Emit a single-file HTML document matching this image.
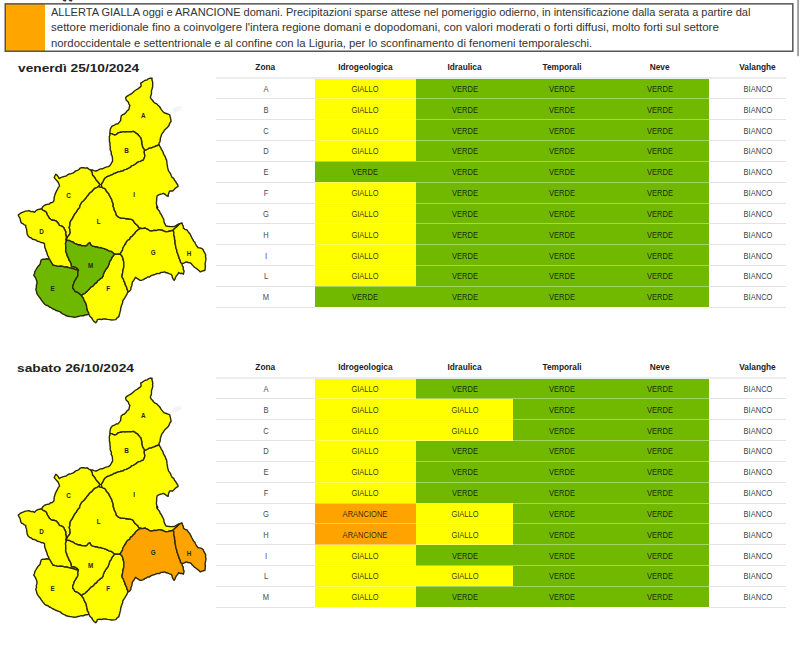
<!DOCTYPE html>
<html><head><meta charset="utf-8"><style>
html,body{margin:0;padding:0;background:#fff;width:800px;height:647px;overflow:hidden;position:relative;font-family:"Liberation Sans",sans-serif}
.abs{position:absolute}
#box{position:absolute;left:4px;top:2.5px;width:787px;height:47.5px;border:2px solid #505050;border-left-width:2px}
#orange{position:absolute;left:6px;top:4.5px;width:38.5px;height:47px;background:#ffa500}
.ln{position:absolute;left:51px;white-space:nowrap;font-size:10.2px;color:#333;transform-origin:0 0;line-height:12px}
.day{position:absolute;left:17.5px;white-space:nowrap;font-size:11.6px;font-weight:bold;color:#222;transform-origin:0 0;line-height:14px}
.th{position:absolute;width:100px;text-align:center;font-size:8.3px;font-weight:bold;color:#222;line-height:10px;white-space:nowrap}
.td{position:absolute;width:100px;text-align:center;font-size:8.2px;transform:scaleX(0.92);color:rgba(0,0,0,0.8);line-height:10px;white-space:nowrap}
.td.z{color:#4a4a4a}
.cell{position:absolute}
.hb{position:absolute;left:215.5px;width:570.5px;height:2px;background:#ececec}
.sep{position:absolute;height:1px;background:#e3e3e3}
.sepc{position:absolute;left:315px;width:393.5px;height:1px;background:rgba(255,255,255,0.38)}
#rl{position:absolute;left:797.5px;top:0;width:1.5px;height:56px;background:#888}
svg{position:absolute;left:0;top:0}
.lbl text{font-size:6.3px;font-weight:bold;fill:#262610;text-anchor:middle;font-family:"Liberation Sans",sans-serif}
</style></head><body>
<svg width="800" height="60" style="position:absolute;left:0;top:0"><rect x="5.25" y="3.85" width="39.75" height="47.4" fill="#ffa500"/><rect x="5.25" y="3.85" width="787.55" height="47.4" fill="none" stroke="#555" stroke-width="1.5"/><rect x="797.3" y="0" width="1.5" height="56.2" fill="#8a8a8a"/><path d="M62.5 0 Q64 2.2 66 1.2 L66.5 0 Z M68.5 0 Q70 2.2 72 1.2 L72.5 0 Z" fill="#333"/></svg>
<div class="ln" style="top:6.5px;transform:scaleX(1.0821)">ALLERTA GIALLA oggi e ARANCIONE domani. Precipitazioni sparse attese nel pomeriggio odierno, in intensificazione dalla serata a partire dal</div>
<div class="ln" style="top:22.35px;transform:scaleX(1.1284)">settore meridionale fino a coinvolgere l'intera regione domani e dopodomani, con valori moderati o forti diffusi, molto forti sul settore</div>
<div class="ln" style="top:38.2px;transform:scaleX(1.1100)">nordoccidentale e settentrionale e al confine con la Liguria, per lo sconfinamento di fenomeni temporaleschi.</div>
<div class="day" style="top:61px;transform:scaleX(1.183)">venerdì 25/10/2024</div>
<div class="day" style="top:360.5px;left:17px;transform:scaleX(1.186)">sabato 26/10/2024</div>
<div class="th" style="left:215.25px;top:62.10px">Zona</div><div class="th" style="left:315.38px;top:62.10px">Idrogeologica</div><div class="th" style="left:414.50px;top:62.10px">Idraulica</div><div class="th" style="left:512.00px;top:62.10px">Temporali</div><div class="th" style="left:609.62px;top:62.10px">Neve</div><div class="th" style="left:707.50px;top:62.10px">Valanghe</div><div class="cell" style="left:315.00px;top:78.00px;width:100.75px;height:20.84px;background:#ffff00"></div><div class="cell" style="left:415.75px;top:78.00px;width:97.50px;height:20.84px;background:#70b900"></div><div class="cell" style="left:513.25px;top:78.00px;width:97.50px;height:20.84px;background:#70b900"></div><div class="cell" style="left:610.75px;top:78.00px;width:97.75px;height:20.84px;background:#70b900"></div><div class="cell" style="left:315.00px;top:98.84px;width:100.75px;height:20.84px;background:#ffff00"></div><div class="cell" style="left:415.75px;top:98.84px;width:97.50px;height:20.84px;background:#70b900"></div><div class="cell" style="left:513.25px;top:98.84px;width:97.50px;height:20.84px;background:#70b900"></div><div class="cell" style="left:610.75px;top:98.84px;width:97.75px;height:20.84px;background:#70b900"></div><div class="cell" style="left:315.00px;top:119.68px;width:100.75px;height:20.84px;background:#ffff00"></div><div class="cell" style="left:415.75px;top:119.68px;width:97.50px;height:20.84px;background:#70b900"></div><div class="cell" style="left:513.25px;top:119.68px;width:97.50px;height:20.84px;background:#70b900"></div><div class="cell" style="left:610.75px;top:119.68px;width:97.75px;height:20.84px;background:#70b900"></div><div class="cell" style="left:315.00px;top:140.52px;width:100.75px;height:20.84px;background:#ffff00"></div><div class="cell" style="left:415.75px;top:140.52px;width:97.50px;height:20.84px;background:#70b900"></div><div class="cell" style="left:513.25px;top:140.52px;width:97.50px;height:20.84px;background:#70b900"></div><div class="cell" style="left:610.75px;top:140.52px;width:97.75px;height:20.84px;background:#70b900"></div><div class="cell" style="left:315.00px;top:161.36px;width:100.75px;height:20.84px;background:#70b900"></div><div class="cell" style="left:415.75px;top:161.36px;width:97.50px;height:20.84px;background:#70b900"></div><div class="cell" style="left:513.25px;top:161.36px;width:97.50px;height:20.84px;background:#70b900"></div><div class="cell" style="left:610.75px;top:161.36px;width:97.75px;height:20.84px;background:#70b900"></div><div class="cell" style="left:315.00px;top:182.20px;width:100.75px;height:20.84px;background:#ffff00"></div><div class="cell" style="left:415.75px;top:182.20px;width:97.50px;height:20.84px;background:#70b900"></div><div class="cell" style="left:513.25px;top:182.20px;width:97.50px;height:20.84px;background:#70b900"></div><div class="cell" style="left:610.75px;top:182.20px;width:97.75px;height:20.84px;background:#70b900"></div><div class="cell" style="left:315.00px;top:203.04px;width:100.75px;height:20.84px;background:#ffff00"></div><div class="cell" style="left:415.75px;top:203.04px;width:97.50px;height:20.84px;background:#70b900"></div><div class="cell" style="left:513.25px;top:203.04px;width:97.50px;height:20.84px;background:#70b900"></div><div class="cell" style="left:610.75px;top:203.04px;width:97.75px;height:20.84px;background:#70b900"></div><div class="cell" style="left:315.00px;top:223.88px;width:100.75px;height:20.84px;background:#ffff00"></div><div class="cell" style="left:415.75px;top:223.88px;width:97.50px;height:20.84px;background:#70b900"></div><div class="cell" style="left:513.25px;top:223.88px;width:97.50px;height:20.84px;background:#70b900"></div><div class="cell" style="left:610.75px;top:223.88px;width:97.75px;height:20.84px;background:#70b900"></div><div class="cell" style="left:315.00px;top:244.72px;width:100.75px;height:20.84px;background:#ffff00"></div><div class="cell" style="left:415.75px;top:244.72px;width:97.50px;height:20.84px;background:#70b900"></div><div class="cell" style="left:513.25px;top:244.72px;width:97.50px;height:20.84px;background:#70b900"></div><div class="cell" style="left:610.75px;top:244.72px;width:97.75px;height:20.84px;background:#70b900"></div><div class="cell" style="left:315.00px;top:265.56px;width:100.75px;height:20.84px;background:#ffff00"></div><div class="cell" style="left:415.75px;top:265.56px;width:97.50px;height:20.84px;background:#70b900"></div><div class="cell" style="left:513.25px;top:265.56px;width:97.50px;height:20.84px;background:#70b900"></div><div class="cell" style="left:610.75px;top:265.56px;width:97.75px;height:20.84px;background:#70b900"></div><div class="cell" style="left:315.00px;top:286.40px;width:100.75px;height:20.84px;background:#70b900"></div><div class="cell" style="left:415.75px;top:286.40px;width:97.50px;height:20.84px;background:#70b900"></div><div class="cell" style="left:513.25px;top:286.40px;width:97.50px;height:20.84px;background:#70b900"></div><div class="cell" style="left:610.75px;top:286.40px;width:97.75px;height:20.84px;background:#70b900"></div><div class="hb" style="top:77.00px"></div><div class="sep" style="top:98.34px;left:215.5px;width:99.5px"></div><div class="sep" style="top:98.34px;left:708.5px;width:77.5px"></div><div class="sepc" style="top:98.34px"></div><div class="sep" style="top:119.18px;left:215.5px;width:99.5px"></div><div class="sep" style="top:119.18px;left:708.5px;width:77.5px"></div><div class="sepc" style="top:119.18px"></div><div class="sep" style="top:140.02px;left:215.5px;width:99.5px"></div><div class="sep" style="top:140.02px;left:708.5px;width:77.5px"></div><div class="sepc" style="top:140.02px"></div><div class="sep" style="top:160.86px;left:215.5px;width:99.5px"></div><div class="sep" style="top:160.86px;left:708.5px;width:77.5px"></div><div class="sepc" style="top:160.86px"></div><div class="sep" style="top:181.70px;left:215.5px;width:99.5px"></div><div class="sep" style="top:181.70px;left:708.5px;width:77.5px"></div><div class="sepc" style="top:181.70px"></div><div class="sep" style="top:202.54px;left:215.5px;width:99.5px"></div><div class="sep" style="top:202.54px;left:708.5px;width:77.5px"></div><div class="sepc" style="top:202.54px"></div><div class="sep" style="top:223.38px;left:215.5px;width:99.5px"></div><div class="sep" style="top:223.38px;left:708.5px;width:77.5px"></div><div class="sepc" style="top:223.38px"></div><div class="sep" style="top:244.22px;left:215.5px;width:99.5px"></div><div class="sep" style="top:244.22px;left:708.5px;width:77.5px"></div><div class="sepc" style="top:244.22px"></div><div class="sep" style="top:265.06px;left:215.5px;width:99.5px"></div><div class="sep" style="top:265.06px;left:708.5px;width:77.5px"></div><div class="sepc" style="top:265.06px"></div><div class="sep" style="top:285.90px;left:215.5px;width:99.5px"></div><div class="sep" style="top:285.90px;left:708.5px;width:77.5px"></div><div class="sepc" style="top:285.90px"></div><div class="sep" style="top:306.74px;left:215.5px;width:99.5px"></div><div class="sep" style="top:306.74px;left:708.5px;width:77.5px"></div><div class="sepc" style="top:306.74px"></div><div class="td z" style="left:216.05px;top:84.90px">A</div><div class="td" style="left:315.38px;top:84.90px">GIALLO</div><div class="td" style="left:414.50px;top:84.90px">VERDE</div><div class="td" style="left:512.00px;top:84.90px">VERDE</div><div class="td" style="left:609.62px;top:84.90px">VERDE</div><div class="td" style="left:707.50px;top:84.90px">BIANCO</div><div class="td z" style="left:216.05px;top:105.74px">B</div><div class="td" style="left:315.38px;top:105.74px">GIALLO</div><div class="td" style="left:414.50px;top:105.74px">VERDE</div><div class="td" style="left:512.00px;top:105.74px">VERDE</div><div class="td" style="left:609.62px;top:105.74px">VERDE</div><div class="td" style="left:707.50px;top:105.74px">BIANCO</div><div class="td z" style="left:216.05px;top:126.58px">C</div><div class="td" style="left:315.38px;top:126.58px">GIALLO</div><div class="td" style="left:414.50px;top:126.58px">VERDE</div><div class="td" style="left:512.00px;top:126.58px">VERDE</div><div class="td" style="left:609.62px;top:126.58px">VERDE</div><div class="td" style="left:707.50px;top:126.58px">BIANCO</div><div class="td z" style="left:216.05px;top:147.42px">D</div><div class="td" style="left:315.38px;top:147.42px">GIALLO</div><div class="td" style="left:414.50px;top:147.42px">VERDE</div><div class="td" style="left:512.00px;top:147.42px">VERDE</div><div class="td" style="left:609.62px;top:147.42px">VERDE</div><div class="td" style="left:707.50px;top:147.42px">BIANCO</div><div class="td z" style="left:216.05px;top:168.26px">E</div><div class="td" style="left:315.38px;top:168.26px">VERDE</div><div class="td" style="left:414.50px;top:168.26px">VERDE</div><div class="td" style="left:512.00px;top:168.26px">VERDE</div><div class="td" style="left:609.62px;top:168.26px">VERDE</div><div class="td" style="left:707.50px;top:168.26px">BIANCO</div><div class="td z" style="left:216.05px;top:189.10px">F</div><div class="td" style="left:315.38px;top:189.10px">GIALLO</div><div class="td" style="left:414.50px;top:189.10px">VERDE</div><div class="td" style="left:512.00px;top:189.10px">VERDE</div><div class="td" style="left:609.62px;top:189.10px">VERDE</div><div class="td" style="left:707.50px;top:189.10px">BIANCO</div><div class="td z" style="left:216.05px;top:209.94px">G</div><div class="td" style="left:315.38px;top:209.94px">GIALLO</div><div class="td" style="left:414.50px;top:209.94px">VERDE</div><div class="td" style="left:512.00px;top:209.94px">VERDE</div><div class="td" style="left:609.62px;top:209.94px">VERDE</div><div class="td" style="left:707.50px;top:209.94px">BIANCO</div><div class="td z" style="left:216.05px;top:230.78px">H</div><div class="td" style="left:315.38px;top:230.78px">GIALLO</div><div class="td" style="left:414.50px;top:230.78px">VERDE</div><div class="td" style="left:512.00px;top:230.78px">VERDE</div><div class="td" style="left:609.62px;top:230.78px">VERDE</div><div class="td" style="left:707.50px;top:230.78px">BIANCO</div><div class="td z" style="left:216.05px;top:251.62px">I</div><div class="td" style="left:315.38px;top:251.62px">GIALLO</div><div class="td" style="left:414.50px;top:251.62px">VERDE</div><div class="td" style="left:512.00px;top:251.62px">VERDE</div><div class="td" style="left:609.62px;top:251.62px">VERDE</div><div class="td" style="left:707.50px;top:251.62px">BIANCO</div><div class="td z" style="left:216.05px;top:272.46px">L</div><div class="td" style="left:315.38px;top:272.46px">GIALLO</div><div class="td" style="left:414.50px;top:272.46px">VERDE</div><div class="td" style="left:512.00px;top:272.46px">VERDE</div><div class="td" style="left:609.62px;top:272.46px">VERDE</div><div class="td" style="left:707.50px;top:272.46px">BIANCO</div><div class="td z" style="left:216.05px;top:293.30px">M</div><div class="td" style="left:315.38px;top:293.30px">VERDE</div><div class="td" style="left:414.50px;top:293.30px">VERDE</div><div class="td" style="left:512.00px;top:293.30px">VERDE</div><div class="td" style="left:609.62px;top:293.30px">VERDE</div><div class="td" style="left:707.50px;top:293.30px">BIANCO</div>
<div class="th" style="left:215.25px;top:362.10px">Zona</div><div class="th" style="left:315.38px;top:362.10px">Idrogeologica</div><div class="th" style="left:414.50px;top:362.10px">Idraulica</div><div class="th" style="left:512.00px;top:362.10px">Temporali</div><div class="th" style="left:609.62px;top:362.10px">Neve</div><div class="th" style="left:707.50px;top:362.10px">Valanghe</div><div class="cell" style="left:315.00px;top:378.00px;width:100.75px;height:20.84px;background:#ffff00"></div><div class="cell" style="left:415.75px;top:378.00px;width:97.50px;height:20.84px;background:#70b900"></div><div class="cell" style="left:513.25px;top:378.00px;width:97.50px;height:20.84px;background:#70b900"></div><div class="cell" style="left:610.75px;top:378.00px;width:97.75px;height:20.84px;background:#70b900"></div><div class="cell" style="left:315.00px;top:398.84px;width:100.75px;height:20.84px;background:#ffff00"></div><div class="cell" style="left:415.75px;top:398.84px;width:97.50px;height:20.84px;background:#ffff00"></div><div class="cell" style="left:513.25px;top:398.84px;width:97.50px;height:20.84px;background:#70b900"></div><div class="cell" style="left:610.75px;top:398.84px;width:97.75px;height:20.84px;background:#70b900"></div><div class="cell" style="left:315.00px;top:419.68px;width:100.75px;height:20.84px;background:#ffff00"></div><div class="cell" style="left:415.75px;top:419.68px;width:97.50px;height:20.84px;background:#ffff00"></div><div class="cell" style="left:513.25px;top:419.68px;width:97.50px;height:20.84px;background:#70b900"></div><div class="cell" style="left:610.75px;top:419.68px;width:97.75px;height:20.84px;background:#70b900"></div><div class="cell" style="left:315.00px;top:440.52px;width:100.75px;height:20.84px;background:#ffff00"></div><div class="cell" style="left:415.75px;top:440.52px;width:97.50px;height:20.84px;background:#70b900"></div><div class="cell" style="left:513.25px;top:440.52px;width:97.50px;height:20.84px;background:#70b900"></div><div class="cell" style="left:610.75px;top:440.52px;width:97.75px;height:20.84px;background:#70b900"></div><div class="cell" style="left:315.00px;top:461.36px;width:100.75px;height:20.84px;background:#ffff00"></div><div class="cell" style="left:415.75px;top:461.36px;width:97.50px;height:20.84px;background:#70b900"></div><div class="cell" style="left:513.25px;top:461.36px;width:97.50px;height:20.84px;background:#70b900"></div><div class="cell" style="left:610.75px;top:461.36px;width:97.75px;height:20.84px;background:#70b900"></div><div class="cell" style="left:315.00px;top:482.20px;width:100.75px;height:20.84px;background:#ffff00"></div><div class="cell" style="left:415.75px;top:482.20px;width:97.50px;height:20.84px;background:#70b900"></div><div class="cell" style="left:513.25px;top:482.20px;width:97.50px;height:20.84px;background:#70b900"></div><div class="cell" style="left:610.75px;top:482.20px;width:97.75px;height:20.84px;background:#70b900"></div><div class="cell" style="left:315.00px;top:503.04px;width:100.75px;height:20.84px;background:#ffa300"></div><div class="cell" style="left:415.75px;top:503.04px;width:97.50px;height:20.84px;background:#ffff00"></div><div class="cell" style="left:513.25px;top:503.04px;width:97.50px;height:20.84px;background:#70b900"></div><div class="cell" style="left:610.75px;top:503.04px;width:97.75px;height:20.84px;background:#70b900"></div><div class="cell" style="left:315.00px;top:523.88px;width:100.75px;height:20.84px;background:#ffa300"></div><div class="cell" style="left:415.75px;top:523.88px;width:97.50px;height:20.84px;background:#ffff00"></div><div class="cell" style="left:513.25px;top:523.88px;width:97.50px;height:20.84px;background:#70b900"></div><div class="cell" style="left:610.75px;top:523.88px;width:97.75px;height:20.84px;background:#70b900"></div><div class="cell" style="left:315.00px;top:544.72px;width:100.75px;height:20.84px;background:#ffff00"></div><div class="cell" style="left:415.75px;top:544.72px;width:97.50px;height:20.84px;background:#70b900"></div><div class="cell" style="left:513.25px;top:544.72px;width:97.50px;height:20.84px;background:#70b900"></div><div class="cell" style="left:610.75px;top:544.72px;width:97.75px;height:20.84px;background:#70b900"></div><div class="cell" style="left:315.00px;top:565.56px;width:100.75px;height:20.84px;background:#ffff00"></div><div class="cell" style="left:415.75px;top:565.56px;width:97.50px;height:20.84px;background:#ffff00"></div><div class="cell" style="left:513.25px;top:565.56px;width:97.50px;height:20.84px;background:#70b900"></div><div class="cell" style="left:610.75px;top:565.56px;width:97.75px;height:20.84px;background:#70b900"></div><div class="cell" style="left:315.00px;top:586.40px;width:100.75px;height:20.84px;background:#ffff00"></div><div class="cell" style="left:415.75px;top:586.40px;width:97.50px;height:20.84px;background:#70b900"></div><div class="cell" style="left:513.25px;top:586.40px;width:97.50px;height:20.84px;background:#70b900"></div><div class="cell" style="left:610.75px;top:586.40px;width:97.75px;height:20.84px;background:#70b900"></div><div class="hb" style="top:377.00px"></div><div class="sep" style="top:398.34px;left:215.5px;width:99.5px"></div><div class="sep" style="top:398.34px;left:708.5px;width:77.5px"></div><div class="sepc" style="top:398.34px"></div><div class="sep" style="top:419.18px;left:215.5px;width:99.5px"></div><div class="sep" style="top:419.18px;left:708.5px;width:77.5px"></div><div class="sepc" style="top:419.18px"></div><div class="sep" style="top:440.02px;left:215.5px;width:99.5px"></div><div class="sep" style="top:440.02px;left:708.5px;width:77.5px"></div><div class="sepc" style="top:440.02px"></div><div class="sep" style="top:460.86px;left:215.5px;width:99.5px"></div><div class="sep" style="top:460.86px;left:708.5px;width:77.5px"></div><div class="sepc" style="top:460.86px"></div><div class="sep" style="top:481.70px;left:215.5px;width:99.5px"></div><div class="sep" style="top:481.70px;left:708.5px;width:77.5px"></div><div class="sepc" style="top:481.70px"></div><div class="sep" style="top:502.54px;left:215.5px;width:99.5px"></div><div class="sep" style="top:502.54px;left:708.5px;width:77.5px"></div><div class="sepc" style="top:502.54px"></div><div class="sep" style="top:523.38px;left:215.5px;width:99.5px"></div><div class="sep" style="top:523.38px;left:708.5px;width:77.5px"></div><div class="sepc" style="top:523.38px"></div><div class="sep" style="top:544.22px;left:215.5px;width:99.5px"></div><div class="sep" style="top:544.22px;left:708.5px;width:77.5px"></div><div class="sepc" style="top:544.22px"></div><div class="sep" style="top:565.06px;left:215.5px;width:99.5px"></div><div class="sep" style="top:565.06px;left:708.5px;width:77.5px"></div><div class="sepc" style="top:565.06px"></div><div class="sep" style="top:585.90px;left:215.5px;width:99.5px"></div><div class="sep" style="top:585.90px;left:708.5px;width:77.5px"></div><div class="sepc" style="top:585.90px"></div><div class="sep" style="top:606.74px;left:215.5px;width:99.5px"></div><div class="sep" style="top:606.74px;left:708.5px;width:77.5px"></div><div class="sepc" style="top:606.74px"></div><div class="td z" style="left:216.05px;top:384.90px">A</div><div class="td" style="left:315.38px;top:384.90px">GIALLO</div><div class="td" style="left:414.50px;top:384.90px">VERDE</div><div class="td" style="left:512.00px;top:384.90px">VERDE</div><div class="td" style="left:609.62px;top:384.90px">VERDE</div><div class="td" style="left:707.50px;top:384.90px">BIANCO</div><div class="td z" style="left:216.05px;top:405.74px">B</div><div class="td" style="left:315.38px;top:405.74px">GIALLO</div><div class="td" style="left:414.50px;top:405.74px">GIALLO</div><div class="td" style="left:512.00px;top:405.74px">VERDE</div><div class="td" style="left:609.62px;top:405.74px">VERDE</div><div class="td" style="left:707.50px;top:405.74px">BIANCO</div><div class="td z" style="left:216.05px;top:426.58px">C</div><div class="td" style="left:315.38px;top:426.58px">GIALLO</div><div class="td" style="left:414.50px;top:426.58px">GIALLO</div><div class="td" style="left:512.00px;top:426.58px">VERDE</div><div class="td" style="left:609.62px;top:426.58px">VERDE</div><div class="td" style="left:707.50px;top:426.58px">BIANCO</div><div class="td z" style="left:216.05px;top:447.42px">D</div><div class="td" style="left:315.38px;top:447.42px">GIALLO</div><div class="td" style="left:414.50px;top:447.42px">VERDE</div><div class="td" style="left:512.00px;top:447.42px">VERDE</div><div class="td" style="left:609.62px;top:447.42px">VERDE</div><div class="td" style="left:707.50px;top:447.42px">BIANCO</div><div class="td z" style="left:216.05px;top:468.26px">E</div><div class="td" style="left:315.38px;top:468.26px">GIALLO</div><div class="td" style="left:414.50px;top:468.26px">VERDE</div><div class="td" style="left:512.00px;top:468.26px">VERDE</div><div class="td" style="left:609.62px;top:468.26px">VERDE</div><div class="td" style="left:707.50px;top:468.26px">BIANCO</div><div class="td z" style="left:216.05px;top:489.10px">F</div><div class="td" style="left:315.38px;top:489.10px">GIALLO</div><div class="td" style="left:414.50px;top:489.10px">VERDE</div><div class="td" style="left:512.00px;top:489.10px">VERDE</div><div class="td" style="left:609.62px;top:489.10px">VERDE</div><div class="td" style="left:707.50px;top:489.10px">BIANCO</div><div class="td z" style="left:216.05px;top:509.94px">G</div><div class="td" style="left:315.38px;top:509.94px">ARANCIONE</div><div class="td" style="left:414.50px;top:509.94px">GIALLO</div><div class="td" style="left:512.00px;top:509.94px">VERDE</div><div class="td" style="left:609.62px;top:509.94px">VERDE</div><div class="td" style="left:707.50px;top:509.94px">BIANCO</div><div class="td z" style="left:216.05px;top:530.78px">H</div><div class="td" style="left:315.38px;top:530.78px">ARANCIONE</div><div class="td" style="left:414.50px;top:530.78px">GIALLO</div><div class="td" style="left:512.00px;top:530.78px">VERDE</div><div class="td" style="left:609.62px;top:530.78px">VERDE</div><div class="td" style="left:707.50px;top:530.78px">BIANCO</div><div class="td z" style="left:216.05px;top:551.62px">I</div><div class="td" style="left:315.38px;top:551.62px">GIALLO</div><div class="td" style="left:414.50px;top:551.62px">VERDE</div><div class="td" style="left:512.00px;top:551.62px">VERDE</div><div class="td" style="left:609.62px;top:551.62px">VERDE</div><div class="td" style="left:707.50px;top:551.62px">BIANCO</div><div class="td z" style="left:216.05px;top:572.46px">L</div><div class="td" style="left:315.38px;top:572.46px">GIALLO</div><div class="td" style="left:414.50px;top:572.46px">GIALLO</div><div class="td" style="left:512.00px;top:572.46px">VERDE</div><div class="td" style="left:609.62px;top:572.46px">VERDE</div><div class="td" style="left:707.50px;top:572.46px">BIANCO</div><div class="td z" style="left:216.05px;top:593.30px">M</div><div class="td" style="left:315.38px;top:593.30px">GIALLO</div><div class="td" style="left:414.50px;top:593.30px">VERDE</div><div class="td" style="left:512.00px;top:593.30px">VERDE</div><div class="td" style="left:609.62px;top:593.30px">VERDE</div><div class="td" style="left:707.50px;top:593.30px">BIANCO</div>
<svg width="800" height="647" viewBox="0 0 800 647">
<ellipse cx="177" cy="109" rx="5" ry="2.5" transform="rotate(-25 177 109)" fill="#e3eaf5" opacity="0.45"/>
<ellipse cx="177" cy="409" rx="5" ry="2.5" transform="rotate(-25 177 409)" fill="#e3eaf5" opacity="0.45"/>
<g stroke="#2a2908" stroke-width="1.4" stroke-linejoin="round"><path d="M109.9 133.4 L110.0 131.2 L110.4 129.1 L111.2 127.3 L112.6 125.8 L114.4 125.2 L116.1 124.0 L118.0 123.7 L119.4 122.1 L120.7 120.4 L120.8 118.2 L121.2 116.1 L122.6 114.7 L124.5 114.0 L125.9 112.5 L127.1 110.8 L128.8 109.6 L129.3 107.4 L129.9 105.3 L128.8 103.8 L128.3 102.0 L126.1 99.9 L125.6 97.7 L126.8 96.3 L128.4 95.5 L129.9 94.5 L131.7 93.6 L133.1 92.3 L134.4 91.0 L135.9 90.0 L137.5 89.1 L138.8 88.1 L140.2 87.2 L141.2 85.8 L140.7 83.1 L142.4 82.1 L144.0 81.0 L145.4 80.2 L147.1 79.9 L148.3 78.8 L150.1 78.1 L152.1 78.2 L151.9 79.8 L152.5 81.4 L152.8 83.1 L152.6 84.7 L152.7 86.6 L152.2 88.5 L151.5 90.4 L151.5 92.3 L151.4 94.2 L150.7 95.9 L150.4 97.7 L151.4 99.2 L152.7 100.5 L153.7 102.0 L155.1 103.1 L156.8 103.9 L158.0 105.3 L159.4 106.5 L160.4 108.0 L161.3 109.6 L162.8 111.4 L164.5 112.9 L166.3 113.5 L168.2 114.1 L169.9 115.0 L170.1 116.6 L170.5 118.2 L170.9 119.8 L171.0 121.5 L170.0 122.8 L169.4 124.3 L168.8 125.8 L167.5 127.4 L165.9 128.7 L164.5 130.2 L163.4 132.0 L162.1 133.6 L161.3 135.6 L160.5 137.7 L160.2 139.9 L160.0 141.6 L159.0 143.2 L159.0 145.0 L156.0 146.0 L154.3 146.8 L152.5 147.3 L151.1 148.0 L149.4 148.1 L148.0 149.0 L146.3 149.9 L144.5 150.5 L143.8 148.8 L142.7 147.3 L142.3 145.5 L141.7 143.8 L141.8 142.1 L141.3 139.9 L140.7 137.8 L139.6 136.6 L138.5 135.3 L137.5 134.0 L135.9 133.2 L134.7 132.1 L133.1 131.3 L131.5 131.8 L129.9 131.6 L128.2 131.9 L126.6 131.8 L125.0 132.1 L123.3 131.6 L121.7 132.2 L120.1 132.3 L118.2 132.9 L116.6 134.3 L114.7 135.0 L113.1 134.4 L111.6 133.6Z" fill="#ffff00"/><path d="M109.9 133.4 L111.6 133.6 L113.1 134.4 L114.7 135.0 L116.6 134.3 L118.2 132.9 L120.1 132.3 L121.7 132.2 L123.3 131.6 L125.0 132.1 L126.6 131.8 L128.2 131.9 L129.9 131.6 L131.5 131.8 L133.1 131.3 L134.7 132.1 L135.9 133.2 L137.5 134.0 L138.5 135.3 L139.6 136.6 L140.7 137.8 L141.3 139.9 L141.8 142.1 L141.7 143.8 L142.3 145.5 L142.7 147.3 L143.8 148.8 L144.5 150.5 L144.2 152.2 L144.5 153.9 L144.9 155.5 L144.6 157.1 L144.0 158.6 L143.4 160.1 L141.8 160.5 L140.4 161.5 L138.7 161.6 L137.4 162.5 L136.1 163.6 L134.8 164.5 L133.4 165.4 L131.7 165.7 L130.7 167.1 L129.3 167.9 L127.8 168.6 L126.4 169.4 L124.7 169.6 L123.4 170.8 L121.7 171.1 L120.2 171.5 L118.5 171.8 L117.0 172.4 L115.5 173.2 L113.8 173.5 L112.5 174.7 L110.9 175.2 L109.4 175.9 L107.8 176.4 L106.3 177.2 L105.0 178.2 L104.0 179.6 L103.3 181.3 L102.3 182.9 L101.4 184.4 L100.2 185.8 L99.5 184.0 L98.3 182.5 L97.0 181.1 L95.8 179.6 L95.0 178.0 L93.9 176.6 L92.6 175.3 L92.3 173.4 L91.6 171.6 L90.5 169.9 L92.3 170.0 L94.0 170.6 L95.8 171.0 L97.5 170.5 L99.0 169.7 L100.5 168.9 L102.3 168.8 L103.8 168.1 L105.3 167.4 L106.9 166.9 L108.5 166.6 L109.9 165.6 L110.9 164.2 L111.7 162.7 L112.6 161.2 L112.5 159.4 L112.4 157.6 L112.1 155.8 L111.2 154.3 L111.4 152.4 L110.8 150.9 L110.1 149.3 L110.3 147.1 L109.9 145.0 L110.0 143.3 L109.5 141.7 L109.4 140.0 L109.4 138.3 L109.3 136.7 L109.9 135.1Z" fill="#ffff00"/><path d="M41.5 208.8 L42.4 207.3 L43.6 206.0 L45.0 205.0 L47.1 204.4 L49.3 204.0 L50.5 202.7 L52.4 202.5 L53.7 201.3 L54.1 199.5 L54.1 197.6 L54.7 195.8 L55.2 193.9 L56.0 192.1 L56.9 190.4 L57.7 188.9 L58.4 187.4 L59.6 186.1 L59.0 184.2 L58.2 182.3 L56.9 180.7 L55.5 179.1 L54.2 177.5 L55.0 175.8 L55.8 174.2 L57.2 175.4 L58.3 176.8 L59.1 178.5 L60.8 177.7 L62.6 176.9 L64.5 176.4 L66.2 176.0 L67.6 174.8 L69.2 174.0 L71.0 173.7 L72.8 173.2 L74.3 172.1 L75.7 170.9 L77.5 170.4 L79.0 169.5 L80.1 168.2 L81.8 167.7 L83.6 167.7 L85.4 168.1 L87.2 167.7 L88.7 169.1 L90.5 169.9 L91.6 171.6 L92.3 173.4 L92.6 175.3 L93.9 176.6 L95.0 178.0 L95.8 179.6 L97.0 181.1 L98.3 182.5 L99.5 184.0 L100.2 185.8 L98.3 186.5 L96.7 187.7 L94.8 188.3 L93.4 189.8 L92.1 191.4 L90.4 192.6 L89.1 193.8 L88.2 195.3 L87.0 196.5 L86.1 198.0 L84.8 199.5 L83.4 201.0 L81.8 202.3 L80.8 204.0 L79.9 205.8 L79.6 207.8 L78.3 209.0 L77.3 210.4 L76.5 212.0 L75.2 213.4 L74.3 214.9 L73.4 216.6 L72.5 218.5 L71.3 220.2 L70.2 222.0 L70.0 223.9 L69.9 225.7 L69.1 227.5 L69.9 229.2 L70.0 231.1 L70.2 232.9 L69.3 234.8 L67.9 236.4 L66.9 238.3 L66.0 239.4 L66.4 237.0 L65.9 235.3 L65.6 233.6 L65.8 231.8 L64.6 229.7 L63.7 227.5 L62.4 226.5 L61.0 225.8 L59.4 225.3 L58.5 223.7 L57.4 222.3 L56.1 221.0 L54.3 220.3 L52.4 220.3 L50.7 219.3 L49.3 218.2 L48.5 216.6 L47.1 214.6 L46.4 212.3 L44.8 211.1 L42.9 210.3Z" fill="#ffff00"/><path d="M41.5 208.8 L42.9 210.3 L44.8 211.1 L46.4 212.3 L47.1 214.6 L48.5 216.6 L49.3 218.2 L50.7 219.3 L52.4 220.3 L54.3 220.3 L56.1 221.0 L57.4 222.3 L58.5 223.7 L59.4 225.3 L61.0 225.8 L62.4 226.5 L63.7 227.5 L64.6 229.7 L65.8 231.8 L65.6 233.6 L65.9 235.3 L66.4 237.0 L66.0 239.4 L66.4 241.3 L65.5 243.2 L65.7 245.1 L65.8 247.0 L65.9 248.8 L65.6 250.6 L66.1 252.3 L66.9 254.1 L67.3 256.0 L68.3 257.7 L69.1 260.0 L70.4 262.0 L71.2 264.1 L71.5 266.4 L73.7 266.7 L75.8 267.5 L77.3 268.6 L78.5 270.0 L76.4 269.9 L74.5 269.1 L72.6 268.5 L70.5 268.0 L68.3 267.5 L66.5 267.0 L64.6 267.1 L62.9 266.4 L61.1 266.1 L59.3 266.3 L57.5 266.4 L55.4 265.6 L53.1 265.3 L52.0 263.7 L51.0 262.0 L50.2 260.4 L49.0 259.0 L48.7 257.2 L47.7 255.6 L47.1 254.0 L46.8 252.3 L46.0 250.8 L45.6 249.1 L44.8 247.4 L44.6 245.6 L44.5 243.7 L42.8 242.7 L40.8 242.5 L39.1 241.5 L37.4 241.3 L36.0 240.1 L34.3 239.5 L32.6 239.3 L31.3 238.0 L29.5 237.3 L28.2 236.1 L27.2 234.1 L26.9 231.8 L26.7 230.2 L26.4 228.5 L25.7 227.0 L25.8 225.3 L24.2 224.8 L23.0 223.7 L21.5 223.1 L20.7 221.6 L20.4 219.9 L19.9 218.1 L19.0 216.6 L18.2 215.0 L19.9 213.7 L21.7 212.6 L23.7 211.8 L25.4 211.1 L27.3 210.9 L29.1 210.7 L30.8 211.6 L32.8 211.5 L34.5 212.3 L36.0 210.8 L37.7 209.6 L39.6 209.2Z" fill="#ffff00"/><path d="M49.0 259.0 L50.2 260.4 L51.0 262.0 L52.0 263.7 L53.1 265.3 L55.4 265.6 L57.5 266.4 L59.3 266.3 L61.1 266.1 L62.9 266.4 L64.6 267.1 L66.5 267.0 L68.3 267.5 L70.5 268.0 L72.6 268.5 L74.5 269.1 L76.4 269.9 L78.5 270.0 L78.0 271.6 L77.8 273.3 L78.0 275.0 L77.5 276.6 L76.5 277.9 L75.8 279.4 L74.4 281.4 L73.7 283.7 L72.9 285.8 L72.6 288.0 L74.0 289.5 L74.8 291.3 L77.1 292.0 L79.1 293.4 L81.5 295.5 L82.4 297.0 L83.5 298.3 L84.0 300.0 L85.0 301.8 L86.0 303.6 L86.5 305.7 L86.8 307.4 L87.2 309.2 L87.5 310.9 L88.6 312.4 L88.8 314.2 L86.9 314.8 L84.9 315.0 L83.2 315.8 L81.3 315.7 L79.5 316.2 L77.7 316.5 L75.9 317.1 L74.1 317.3 L72.2 316.9 L70.2 316.6 L68.3 316.3 L66.4 315.8 L64.9 314.8 L63.1 314.2 L61.6 313.1 L60.2 311.9 L58.6 311.3 L57.1 310.7 L55.5 310.3 L54.1 309.2 L52.5 308.8 L51.1 307.7 L49.4 307.0 L48.0 305.7 L46.1 305.3 L44.7 304.2 L43.5 302.8 L42.4 301.3 L41.2 299.9 L40.3 298.2 L39.0 296.7 L37.8 295.1 L36.9 293.4 L36.4 291.2 L35.8 289.1 L36.5 287.4 L36.3 285.4 L36.9 283.7 L37.0 281.8 L36.4 280.0 L35.8 278.3 L34.8 276.6 L33.7 275.0 L34.6 273.5 L34.7 271.8 L35.8 270.0 L36.9 268.2 L38.0 266.4 L40.1 264.2 L40.6 262.0 L41.2 259.9 L42.9 259.2 L44.8 259.2 L46.6 258.8Z" fill="#6fb800"/><path d="M81.5 295.5 L83.0 294.1 L84.9 293.4 L86.0 292.1 L87.3 291.1 L88.4 289.9 L89.6 288.7 L90.7 287.1 L92.6 286.4 L93.8 285.0 L95.0 283.5 L96.6 282.7 L97.5 281.0 L99.0 280.0 L100.3 278.7 L101.9 277.9 L103.0 276.2 L103.4 274.2 L104.1 272.4 L105.2 270.7 L106.1 269.0 L107.4 267.6 L108.2 266.0 L108.9 264.2 L109.4 262.5 L110.0 260.8 L111.3 259.5 L111.7 257.7 L113.2 255.9 L114.5 254.0 L120.0 254.0 L121.7 255.6 L122.8 257.7 L123.0 259.3 L123.5 260.9 L123.9 262.5 L123.8 264.2 L123.9 265.9 L123.7 267.5 L123.3 269.1 L122.8 270.7 L122.7 272.5 L122.4 274.3 L121.9 276.0 L122.3 277.7 L123.4 279.2 L123.8 280.9 L124.7 282.4 L125.1 284.1 L125.8 285.6 L126.6 287.1 L126.9 288.8 L127.7 290.3 L127.8 292.0 L126.6 294.9 L125.6 296.4 L124.6 298.1 L123.6 299.6 L122.7 301.0 L122.7 302.7 L122.0 304.2 L121.3 306.2 L120.7 308.3 L120.5 310.4 L120.0 311.9 L119.7 313.5 L119.2 315.0 L118.9 316.6 L117.1 317.9 L115.8 319.6 L113.7 319.9 L111.7 320.0 L109.6 319.6 L107.6 319.4 L105.5 319.0 L103.5 318.9 L101.5 319.5 L99.3 319.1 L97.3 319.6 L96.9 321.3 L95.7 322.7 L93.9 321.4 L92.6 319.6 L91.9 318.1 L90.6 317.0 L89.6 315.7 L88.8 314.2 L88.6 312.4 L87.5 310.9 L87.2 309.2 L86.8 307.4 L86.5 305.7 L86.0 303.6 L85.0 301.8 L84.0 300.0 L83.5 298.3 L82.4 297.0Z" fill="#ffff00"/><path d="M66.0 239.4 L67.8 240.3 L69.8 240.5 L71.5 241.5 L73.3 241.9 L74.7 243.3 L76.4 243.8 L78.0 244.7 L80.0 244.6 L81.7 245.6 L83.7 245.6 L85.6 245.8 L87.2 245.0 L88.2 243.4 L89.9 242.6 L90.7 244.4 L92.1 245.8 L95.0 246.7 L96.9 246.6 L98.7 247.6 L100.6 247.5 L102.4 248.1 L104.3 248.6 L106.1 249.3 L107.6 250.0 L109.1 250.9 L110.8 251.2 L112.8 252.4 L114.5 254.0 L113.2 255.9 L111.7 257.7 L111.3 259.5 L110.0 260.8 L109.4 262.5 L108.9 264.2 L108.2 266.0 L107.4 267.6 L106.1 269.0 L105.2 270.7 L104.1 272.4 L103.4 274.2 L103.0 276.2 L101.9 277.9 L100.3 278.7 L99.0 280.0 L97.5 281.0 L96.6 282.7 L95.0 283.5 L93.8 285.0 L92.6 286.4 L90.7 287.1 L89.6 288.7 L88.4 289.9 L87.3 291.1 L86.0 292.1 L84.9 293.4 L83.0 294.1 L81.5 295.5 L79.1 293.4 L77.1 292.0 L74.8 291.3 L74.0 289.5 L72.6 288.0 L72.9 285.8 L73.7 283.7 L74.4 281.4 L75.8 279.4 L76.5 277.9 L77.5 276.6 L78.0 275.0 L77.8 273.3 L78.0 271.6 L78.5 270.0 L77.3 268.6 L75.8 267.5 L73.7 266.7 L71.5 266.4 L71.2 264.1 L70.4 262.0 L69.1 260.0 L68.3 257.7 L67.3 256.0 L66.9 254.1 L66.1 252.3 L65.6 250.6 L65.9 248.8 L65.8 247.0 L65.7 245.1 L65.5 243.2 L66.4 241.3Z" fill="#6fb800"/><path d="M100.2 185.8 L101.5 186.8 L102.8 187.8 L104.5 188.3 L105.7 189.6 L106.4 191.2 L107.6 192.5 L108.8 193.7 L109.3 195.3 L110.2 196.7 L110.9 198.2 L111.8 199.6 L112.1 201.3 L112.8 202.9 L113.3 204.6 L113.1 206.5 L114.0 208.1 L114.2 209.9 L115.2 211.5 L115.9 213.2 L116.3 215.0 L117.5 216.4 L119.1 217.3 L120.7 218.0 L122.3 218.2 L124.0 218.2 L125.6 218.7 L127.3 218.7 L128.9 219.0 L130.5 219.3 L132.1 219.6 L133.7 221.3 L134.9 223.3 L136.3 224.5 L137.8 225.6 L138.7 227.4 L140.4 228.3 L138.7 229.3 L137.3 230.5 L135.8 231.7 L134.8 233.4 L133.4 234.8 L132.1 236.3 L130.4 237.4 L129.6 239.4 L127.7 240.3 L126.5 241.9 L125.7 243.5 L124.7 245.0 L123.8 246.5 L122.9 248.0 L122.6 249.7 L121.9 251.2 L120.9 252.6 L120.0 254.0 L114.5 254.0 L112.8 252.4 L110.8 251.2 L109.1 250.9 L107.6 250.0 L106.1 249.3 L104.3 248.6 L102.4 248.1 L100.6 247.5 L98.7 247.6 L96.9 246.6 L95.0 246.7 L92.1 245.8 L90.7 244.4 L89.9 242.6 L88.2 243.4 L87.2 245.0 L85.6 245.8 L83.7 245.6 L81.7 245.6 L80.0 244.6 L78.0 244.7 L76.4 243.8 L74.7 243.3 L73.3 241.9 L71.5 241.5 L69.8 240.5 L67.8 240.3 L66.0 239.4 L66.9 238.3 L67.9 236.4 L69.3 234.8 L70.2 232.9 L70.0 231.1 L69.9 229.2 L69.1 227.5 L69.9 225.7 L70.0 223.9 L70.2 222.0 L71.3 220.2 L72.5 218.5 L73.4 216.6 L74.3 214.9 L75.2 213.4 L76.5 212.0 L77.3 210.4 L78.3 209.0 L79.6 207.8 L79.9 205.8 L80.8 204.0 L81.8 202.3 L83.4 201.0 L84.8 199.5 L86.1 198.0 L87.0 196.5 L88.2 195.3 L89.1 193.8 L90.4 192.6 L92.1 191.4 L93.4 189.8 L94.8 188.3 L96.7 187.7 L98.3 186.5Z" fill="#ffff00"/><path d="M144.5 150.5 L146.3 149.9 L148.0 149.0 L149.4 148.1 L151.1 148.0 L152.5 147.3 L154.3 146.8 L156.0 146.0 L159.0 145.0 L159.9 146.4 L160.8 147.8 L161.3 149.4 L162.4 150.7 L163.1 152.2 L163.5 153.9 L164.4 155.4 L165.3 156.9 L165.8 158.6 L166.6 160.1 L166.9 162.0 L167.0 163.9 L167.4 165.7 L167.6 167.6 L168.1 169.4 L168.6 171.1 L169.7 172.4 L170.6 173.9 L171.2 175.5 L172.0 177.3 L173.8 178.4 L174.5 180.3 L175.8 181.7 L176.5 183.3 L177.7 184.7 L178.1 186.4 L176.6 187.3 L175.2 188.4 L174.0 189.8 L172.7 191.0 L169.6 191.0 L168.9 192.7 L168.3 194.5 L168.1 196.4 L166.4 195.6 L165.0 194.3 L163.5 193.3 L161.9 193.9 L160.3 194.2 L158.8 194.8 L157.3 195.6 L156.7 197.6 L156.7 199.7 L156.5 201.8 L156.4 203.6 L156.8 205.3 L157.0 207.0 L157.4 208.7 L158.5 210.1 L159.6 211.5 L160.2 213.3 L161.4 214.7 L162.2 216.4 L163.0 218.0 L163.9 219.8 L163.9 221.8 L164.8 223.6 L166.0 226.0 L168.0 226.3 L170.0 226.5 L172.2 226.6 L174.5 226.5 L176.3 225.4 L178.0 224.2 L180.0 223.8 L182.0 223.1 L180.0 223.7 L178.5 225.0 L177.3 226.3 L176.0 227.5 L174.4 228.7 L173.2 230.3 L170.4 231.0 L168.1 231.5 L165.8 231.9 L164.2 231.2 L162.7 230.5 L161.1 230.0 L159.2 229.7 L157.4 230.2 L155.6 230.5 L153.6 230.4 L151.7 231.1 L149.7 230.8 L148.3 229.7 L146.6 229.0 L145.1 228.0 L142.8 228.6 L140.4 228.3 L138.7 227.4 L137.8 225.6 L136.3 224.5 L134.9 223.3 L133.7 221.3 L132.1 219.6 L130.5 219.3 L128.9 219.0 L127.3 218.7 L125.6 218.7 L124.0 218.2 L122.3 218.2 L120.7 218.0 L119.1 217.3 L117.5 216.4 L116.3 215.0 L115.9 213.2 L115.2 211.5 L114.2 209.9 L114.0 208.1 L113.1 206.5 L113.3 204.6 L112.8 202.9 L112.1 201.3 L111.8 199.6 L110.9 198.2 L110.2 196.7 L109.3 195.3 L108.8 193.7 L107.6 192.5 L106.4 191.2 L105.7 189.6 L104.5 188.3 L102.8 187.8 L101.5 186.8 L100.2 185.8 L101.4 184.4 L102.3 182.9 L103.3 181.3 L104.0 179.6 L105.0 178.2 L106.3 177.2 L107.8 176.4 L109.4 175.9 L110.9 175.2 L112.5 174.7 L113.8 173.5 L115.5 173.2 L117.0 172.4 L118.5 171.8 L120.2 171.5 L121.7 171.1 L123.4 170.8 L124.7 169.6 L126.4 169.4 L127.8 168.6 L129.3 167.9 L130.7 167.1 L131.7 165.7 L133.4 165.4 L134.8 164.5 L136.1 163.6 L137.4 162.5 L138.7 161.6 L140.4 161.5 L141.8 160.5 L143.4 160.1 L144.0 158.6 L144.6 157.1 L144.9 155.5 L144.5 153.9 L144.2 152.2Z" fill="#ffff00"/><path d="M140.4 228.3 L142.8 228.6 L145.1 228.0 L146.6 229.0 L148.3 229.7 L149.7 230.8 L151.7 231.1 L153.6 230.4 L155.6 230.5 L157.4 230.2 L159.2 229.7 L161.1 230.0 L162.7 230.5 L164.2 231.2 L165.8 231.9 L168.1 231.5 L170.4 231.0 L173.2 230.3 L173.9 232.5 L173.7 234.7 L174.5 236.9 L174.6 239.3 L175.1 241.1 L175.0 243.1 L175.5 244.9 L175.7 246.6 L176.0 248.2 L176.7 249.7 L176.9 251.4 L177.5 253.3 L178.2 255.1 L178.8 257.0 L179.4 258.8 L180.3 260.6 L180.6 262.5 L182.0 263.5 L182.2 265.5 L183.3 267.2 L183.2 269.3 L184.1 271.1 L183.4 274.2 L182.0 273.3 L180.1 273.5 L178.7 272.6 L177.8 274.2 L176.6 275.6 L175.6 277.1 L175.1 278.9 L174.1 280.4 L173.1 278.9 L172.3 277.4 L172.1 275.6 L171.0 274.2 L169.4 273.9 L167.9 273.0 L166.2 272.8 L164.8 271.9 L162.9 272.3 L161.0 272.4 L159.3 273.6 L157.3 273.5 L155.5 274.2 L154.0 274.8 L152.3 275.1 L150.8 275.9 L149.5 277.0 L147.7 277.0 L146.3 278.0 L144.8 278.6 L143.4 279.6 L141.8 280.2 L140.1 280.4 L138.6 279.4 L137.0 278.4 L135.5 277.3 L134.6 278.9 L133.7 280.5 L132.4 281.9 L132.1 283.9 L131.8 285.8 L130.9 287.6 L130.8 289.6 L129.6 291.2 L127.8 292.0 L127.7 290.3 L126.9 288.8 L126.6 287.1 L125.8 285.6 L125.1 284.1 L124.7 282.4 L123.8 280.9 L123.4 279.2 L122.3 277.7 L121.9 276.0 L122.4 274.3 L122.7 272.5 L122.8 270.7 L123.3 269.1 L123.7 267.5 L123.9 265.9 L123.8 264.2 L123.9 262.5 L123.5 260.9 L123.0 259.3 L122.8 257.7 L121.7 255.6 L120.0 254.0 L120.9 252.6 L121.9 251.2 L122.6 249.7 L122.9 248.0 L123.8 246.5 L124.7 245.0 L125.7 243.5 L126.5 241.9 L127.7 240.3 L129.6 239.4 L130.4 237.4 L132.1 236.3 L133.4 234.8 L134.8 233.4 L135.8 231.7 L137.3 230.5 L138.7 229.3Z" fill="#ffff00"/><path d="M173.2 230.3 L174.4 228.7 L176.0 227.5 L177.3 226.3 L178.5 225.0 L180.0 223.7 L182.0 223.1 L182.5 224.8 L183.4 226.4 L183.4 228.2 L185.1 229.3 L187.1 230.0 L188.3 232.0 L189.9 233.8 L190.8 235.6 L191.7 237.5 L192.7 239.3 L193.5 240.9 L194.9 242.2 L195.5 244.0 L196.7 246.0 L198.2 247.7 L200.1 247.9 L201.9 248.6 L203.2 249.8 L203.8 251.4 L204.9 253.2 L205.7 255.1 L205.5 257.0 L206.0 258.8 L205.7 260.7 L205.4 262.3 L205.0 263.9 L205.4 265.5 L205.3 267.1 L205.1 268.7 L205.0 270.3 L203.4 270.7 L201.9 271.1 L200.4 271.9 L198.9 270.5 L197.3 269.2 L195.7 268.0 L194.3 267.1 L193.2 265.9 L192.1 264.7 L191.1 263.4 L189.6 262.7 L188.0 262.5 L186.5 261.8 L184.9 262.5 L183.4 263.4 L182.0 263.5 L180.6 262.5 L180.3 260.6 L179.4 258.8 L178.8 257.0 L178.2 255.1 L177.5 253.3 L176.9 251.4 L176.7 249.7 L176.0 248.2 L175.7 246.6 L175.5 244.9 L175.0 243.1 L175.1 241.1 L174.6 239.3 L174.5 236.9 L173.7 234.7 L173.9 232.5Z" fill="#ffff00"/><circle cx="100.4" cy="185.9" r="1.3" fill="#fff"/><ellipse cx="157.3" cy="207.3" rx="1" ry="1.6" fill="#1f1e08" stroke="none"/></g><g class="lbl"><text x="143.4" y="117.6">A</text><text x="126.6" y="153.1">B</text><text x="68.6" y="197.8">C</text><text x="41.5" y="233.8">D</text><text x="98.7" y="224.4">L</text><text x="134.1" y="196.9">I</text><text x="153.2" y="255.2">G</text><text x="189.0" y="255.7">H</text><text x="90.5" y="268.4">M</text><text x="52.6" y="291.1">E</text><text x="108.1" y="290.7">F</text></g>
<g stroke="#2a2908" stroke-width="1.4" stroke-linejoin="round"><path d="M109.9 433.4 L110.0 431.2 L110.4 429.1 L111.2 427.3 L112.6 425.8 L114.4 425.2 L116.1 424.0 L118.0 423.7 L119.4 422.1 L120.7 420.4 L120.8 418.2 L121.2 416.1 L122.6 414.7 L124.5 414.0 L125.9 412.5 L127.1 410.8 L128.8 409.6 L129.3 407.4 L129.9 405.3 L128.8 403.8 L128.3 402.0 L126.1 399.9 L125.6 397.7 L126.8 396.3 L128.4 395.5 L129.9 394.5 L131.7 393.6 L133.1 392.3 L134.4 391.0 L135.9 390.0 L137.5 389.1 L138.8 388.1 L140.2 387.2 L141.2 385.8 L140.7 383.1 L142.4 382.1 L144.0 381.0 L145.4 380.2 L147.1 379.9 L148.3 378.8 L150.1 378.1 L152.1 378.2 L151.9 379.8 L152.5 381.4 L152.8 383.1 L152.6 384.7 L152.7 386.6 L152.2 388.5 L151.5 390.4 L151.5 392.3 L151.4 394.2 L150.7 395.9 L150.4 397.7 L151.4 399.2 L152.7 400.5 L153.7 402.0 L155.1 403.1 L156.8 403.9 L158.0 405.3 L159.4 406.5 L160.4 408.0 L161.3 409.6 L162.8 411.4 L164.5 412.9 L166.3 413.5 L168.2 414.1 L169.9 415.0 L170.1 416.6 L170.5 418.2 L170.9 419.8 L171.0 421.5 L170.0 422.8 L169.4 424.3 L168.8 425.8 L167.5 427.4 L165.9 428.7 L164.5 430.2 L163.4 432.0 L162.1 433.6 L161.3 435.6 L160.5 437.7 L160.2 439.9 L160.0 441.6 L159.0 443.2 L159.0 445.0 L156.0 446.0 L154.3 446.8 L152.5 447.3 L151.1 448.0 L149.4 448.1 L148.0 449.0 L146.3 449.9 L144.5 450.5 L143.8 448.8 L142.7 447.3 L142.3 445.5 L141.7 443.8 L141.8 442.1 L141.3 439.9 L140.7 437.8 L139.6 436.6 L138.5 435.3 L137.5 434.0 L135.9 433.2 L134.7 432.1 L133.1 431.3 L131.5 431.8 L129.9 431.6 L128.2 431.9 L126.6 431.8 L125.0 432.1 L123.3 431.6 L121.7 432.2 L120.1 432.3 L118.2 432.9 L116.6 434.3 L114.7 435.0 L113.1 434.4 L111.6 433.6Z" fill="#ffff00"/><path d="M109.9 433.4 L111.6 433.6 L113.1 434.4 L114.7 435.0 L116.6 434.3 L118.2 432.9 L120.1 432.3 L121.7 432.2 L123.3 431.6 L125.0 432.1 L126.6 431.8 L128.2 431.9 L129.9 431.6 L131.5 431.8 L133.1 431.3 L134.7 432.1 L135.9 433.2 L137.5 434.0 L138.5 435.3 L139.6 436.6 L140.7 437.8 L141.3 439.9 L141.8 442.1 L141.7 443.8 L142.3 445.5 L142.7 447.3 L143.8 448.8 L144.5 450.5 L144.2 452.2 L144.5 453.9 L144.9 455.5 L144.6 457.1 L144.0 458.6 L143.4 460.1 L141.8 460.5 L140.4 461.5 L138.7 461.6 L137.4 462.5 L136.1 463.6 L134.8 464.5 L133.4 465.4 L131.7 465.7 L130.7 467.1 L129.3 467.9 L127.8 468.6 L126.4 469.4 L124.7 469.6 L123.4 470.8 L121.7 471.1 L120.2 471.5 L118.5 471.8 L117.0 472.4 L115.5 473.2 L113.8 473.5 L112.5 474.7 L110.9 475.2 L109.4 475.9 L107.8 476.4 L106.3 477.2 L105.0 478.2 L104.0 479.6 L103.3 481.3 L102.3 482.9 L101.4 484.4 L100.2 485.8 L99.5 484.0 L98.3 482.5 L97.0 481.1 L95.8 479.6 L95.0 478.0 L93.9 476.6 L92.6 475.3 L92.3 473.4 L91.6 471.6 L90.5 469.9 L92.3 470.0 L94.0 470.6 L95.8 471.0 L97.5 470.5 L99.0 469.7 L100.5 468.9 L102.3 468.8 L103.8 468.1 L105.3 467.4 L106.9 466.9 L108.5 466.6 L109.9 465.6 L110.9 464.2 L111.7 462.7 L112.6 461.2 L112.5 459.4 L112.4 457.6 L112.1 455.8 L111.2 454.3 L111.4 452.4 L110.8 450.9 L110.1 449.3 L110.3 447.1 L109.9 445.0 L110.0 443.3 L109.5 441.7 L109.4 440.0 L109.4 438.3 L109.3 436.7 L109.9 435.1Z" fill="#ffff00"/><path d="M41.5 508.8 L42.4 507.3 L43.6 506.0 L45.0 505.0 L47.1 504.4 L49.3 504.0 L50.5 502.7 L52.4 502.5 L53.7 501.3 L54.1 499.5 L54.1 497.6 L54.7 495.8 L55.2 493.9 L56.0 492.1 L56.9 490.4 L57.7 488.9 L58.4 487.4 L59.6 486.1 L59.0 484.2 L58.2 482.3 L56.9 480.7 L55.5 479.1 L54.2 477.5 L55.0 475.8 L55.8 474.2 L57.2 475.4 L58.3 476.8 L59.1 478.5 L60.8 477.7 L62.6 476.9 L64.5 476.4 L66.2 476.0 L67.6 474.8 L69.2 474.0 L71.0 473.7 L72.8 473.2 L74.3 472.1 L75.7 470.9 L77.5 470.4 L79.0 469.5 L80.1 468.2 L81.8 467.7 L83.6 467.7 L85.4 468.1 L87.2 467.7 L88.7 469.1 L90.5 469.9 L91.6 471.6 L92.3 473.4 L92.6 475.3 L93.9 476.6 L95.0 478.0 L95.8 479.6 L97.0 481.1 L98.3 482.5 L99.5 484.0 L100.2 485.8 L98.3 486.5 L96.7 487.7 L94.8 488.3 L93.4 489.8 L92.1 491.4 L90.4 492.6 L89.1 493.8 L88.2 495.3 L87.0 496.5 L86.1 498.0 L84.8 499.5 L83.4 501.0 L81.8 502.3 L80.8 504.0 L79.9 505.8 L79.6 507.8 L78.3 509.0 L77.3 510.4 L76.5 512.0 L75.2 513.4 L74.3 514.9 L73.4 516.6 L72.5 518.5 L71.3 520.2 L70.2 522.0 L70.0 523.9 L69.9 525.7 L69.1 527.5 L69.9 529.2 L70.0 531.1 L70.2 532.9 L69.3 534.8 L67.9 536.4 L66.9 538.3 L66.0 539.4 L66.4 537.0 L65.9 535.3 L65.6 533.6 L65.8 531.8 L64.6 529.7 L63.7 527.5 L62.4 526.5 L61.0 525.8 L59.4 525.3 L58.5 523.7 L57.4 522.3 L56.1 521.0 L54.3 520.3 L52.4 520.3 L50.7 519.3 L49.3 518.2 L48.5 516.6 L47.1 514.6 L46.4 512.3 L44.8 511.1 L42.9 510.3Z" fill="#ffff00"/><path d="M41.5 508.8 L42.9 510.3 L44.8 511.1 L46.4 512.3 L47.1 514.6 L48.5 516.6 L49.3 518.2 L50.7 519.3 L52.4 520.3 L54.3 520.3 L56.1 521.0 L57.4 522.3 L58.5 523.7 L59.4 525.3 L61.0 525.8 L62.4 526.5 L63.7 527.5 L64.6 529.7 L65.8 531.8 L65.6 533.6 L65.9 535.3 L66.4 537.0 L66.0 539.4 L66.4 541.3 L65.5 543.2 L65.7 545.1 L65.8 547.0 L65.9 548.8 L65.6 550.6 L66.1 552.3 L66.9 554.1 L67.3 556.0 L68.3 557.7 L69.1 560.0 L70.4 562.0 L71.2 564.1 L71.5 566.4 L73.7 566.7 L75.8 567.5 L77.3 568.6 L78.5 570.0 L76.4 569.9 L74.5 569.1 L72.6 568.5 L70.5 568.0 L68.3 567.5 L66.5 567.0 L64.6 567.1 L62.9 566.4 L61.1 566.1 L59.3 566.3 L57.5 566.4 L55.4 565.6 L53.1 565.3 L52.0 563.7 L51.0 562.0 L50.2 560.4 L49.0 559.0 L48.7 557.2 L47.7 555.6 L47.1 554.0 L46.8 552.3 L46.0 550.8 L45.6 549.1 L44.8 547.4 L44.6 545.6 L44.5 543.7 L42.8 542.7 L40.8 542.5 L39.1 541.5 L37.4 541.3 L36.0 540.1 L34.3 539.5 L32.6 539.3 L31.3 538.0 L29.5 537.3 L28.2 536.1 L27.2 534.1 L26.9 531.8 L26.7 530.2 L26.4 528.5 L25.7 527.0 L25.8 525.3 L24.2 524.8 L23.0 523.7 L21.5 523.1 L20.7 521.6 L20.4 519.9 L19.9 518.1 L19.0 516.6 L18.2 515.0 L19.9 513.7 L21.7 512.6 L23.7 511.8 L25.4 511.1 L27.3 510.9 L29.1 510.7 L30.8 511.6 L32.8 511.5 L34.5 512.3 L36.0 510.8 L37.7 509.6 L39.6 509.2Z" fill="#ffff00"/><path d="M49.0 559.0 L50.2 560.4 L51.0 562.0 L52.0 563.7 L53.1 565.3 L55.4 565.6 L57.5 566.4 L59.3 566.3 L61.1 566.1 L62.9 566.4 L64.6 567.1 L66.5 567.0 L68.3 567.5 L70.5 568.0 L72.6 568.5 L74.5 569.1 L76.4 569.9 L78.5 570.0 L78.0 571.6 L77.8 573.3 L78.0 575.0 L77.5 576.6 L76.5 577.9 L75.8 579.4 L74.4 581.4 L73.7 583.7 L72.9 585.8 L72.6 588.0 L74.0 589.5 L74.8 591.3 L77.1 592.0 L79.1 593.4 L81.5 595.5 L82.4 597.0 L83.5 598.3 L84.0 600.0 L85.0 601.8 L86.0 603.6 L86.5 605.7 L86.8 607.4 L87.2 609.2 L87.5 610.9 L88.6 612.4 L88.8 614.2 L86.9 614.8 L84.9 615.0 L83.2 615.8 L81.3 615.7 L79.5 616.2 L77.7 616.5 L75.9 617.1 L74.1 617.3 L72.2 616.9 L70.2 616.6 L68.3 616.3 L66.4 615.8 L64.9 614.8 L63.1 614.2 L61.6 613.1 L60.2 611.9 L58.6 611.3 L57.1 610.7 L55.5 610.3 L54.1 609.2 L52.5 608.8 L51.1 607.7 L49.4 607.0 L48.0 605.7 L46.1 605.3 L44.7 604.2 L43.5 602.8 L42.4 601.3 L41.2 599.9 L40.3 598.2 L39.0 596.7 L37.8 595.1 L36.9 593.4 L36.4 591.2 L35.8 589.1 L36.5 587.4 L36.3 585.4 L36.9 583.7 L37.0 581.8 L36.4 580.0 L35.8 578.3 L34.8 576.6 L33.7 575.0 L34.6 573.5 L34.7 571.8 L35.8 570.0 L36.9 568.2 L38.0 566.4 L40.1 564.2 L40.6 562.0 L41.2 559.9 L42.9 559.2 L44.8 559.2 L46.6 558.8Z" fill="#ffff00"/><path d="M81.5 595.5 L83.0 594.1 L84.9 593.4 L86.0 592.1 L87.3 591.1 L88.4 589.9 L89.6 588.7 L90.7 587.1 L92.6 586.4 L93.8 585.0 L95.0 583.5 L96.6 582.7 L97.5 581.0 L99.0 580.0 L100.3 578.7 L101.9 577.9 L103.0 576.2 L103.4 574.2 L104.1 572.4 L105.2 570.7 L106.1 569.0 L107.4 567.6 L108.2 566.0 L108.9 564.2 L109.4 562.5 L110.0 560.8 L111.3 559.5 L111.7 557.7 L113.2 555.9 L114.5 554.0 L120.0 554.0 L121.7 555.6 L122.8 557.7 L123.0 559.3 L123.5 560.9 L123.9 562.5 L123.8 564.2 L123.9 565.9 L123.7 567.5 L123.3 569.1 L122.8 570.7 L122.7 572.5 L122.4 574.3 L121.9 576.0 L122.3 577.7 L123.4 579.2 L123.8 580.9 L124.7 582.4 L125.1 584.1 L125.8 585.6 L126.6 587.1 L126.9 588.8 L127.7 590.3 L127.8 592.0 L126.6 594.9 L125.6 596.4 L124.6 598.1 L123.6 599.6 L122.7 601.0 L122.7 602.7 L122.0 604.2 L121.3 606.2 L120.7 608.3 L120.5 610.4 L120.0 611.9 L119.7 613.5 L119.2 615.0 L118.9 616.6 L117.1 617.9 L115.8 619.6 L113.7 619.9 L111.7 620.0 L109.6 619.6 L107.6 619.4 L105.5 619.0 L103.5 618.9 L101.5 619.5 L99.3 619.1 L97.3 619.6 L96.9 621.3 L95.7 622.7 L93.9 621.4 L92.6 619.6 L91.9 618.1 L90.6 617.0 L89.6 615.7 L88.8 614.2 L88.6 612.4 L87.5 610.9 L87.2 609.2 L86.8 607.4 L86.5 605.7 L86.0 603.6 L85.0 601.8 L84.0 600.0 L83.5 598.3 L82.4 597.0Z" fill="#ffff00"/><path d="M66.0 539.4 L67.8 540.3 L69.8 540.5 L71.5 541.5 L73.3 541.9 L74.7 543.3 L76.4 543.8 L78.0 544.7 L80.0 544.6 L81.7 545.6 L83.7 545.6 L85.6 545.8 L87.2 545.0 L88.2 543.4 L89.9 542.6 L90.7 544.4 L92.1 545.8 L95.0 546.7 L96.9 546.6 L98.7 547.6 L100.6 547.5 L102.4 548.1 L104.3 548.6 L106.1 549.3 L107.6 550.0 L109.1 550.9 L110.8 551.2 L112.8 552.4 L114.5 554.0 L113.2 555.9 L111.7 557.7 L111.3 559.5 L110.0 560.8 L109.4 562.5 L108.9 564.2 L108.2 566.0 L107.4 567.6 L106.1 569.0 L105.2 570.7 L104.1 572.4 L103.4 574.2 L103.0 576.2 L101.9 577.9 L100.3 578.7 L99.0 580.0 L97.5 581.0 L96.6 582.7 L95.0 583.5 L93.8 585.0 L92.6 586.4 L90.7 587.1 L89.6 588.7 L88.4 589.9 L87.3 591.1 L86.0 592.1 L84.9 593.4 L83.0 594.1 L81.5 595.5 L79.1 593.4 L77.1 592.0 L74.8 591.3 L74.0 589.5 L72.6 588.0 L72.9 585.8 L73.7 583.7 L74.4 581.4 L75.8 579.4 L76.5 577.9 L77.5 576.6 L78.0 575.0 L77.8 573.3 L78.0 571.6 L78.5 570.0 L77.3 568.6 L75.8 567.5 L73.7 566.7 L71.5 566.4 L71.2 564.1 L70.4 562.0 L69.1 560.0 L68.3 557.7 L67.3 556.0 L66.9 554.1 L66.1 552.3 L65.6 550.6 L65.9 548.8 L65.8 547.0 L65.7 545.1 L65.5 543.2 L66.4 541.3Z" fill="#ffff00"/><path d="M100.2 485.8 L101.5 486.8 L102.8 487.8 L104.5 488.3 L105.7 489.6 L106.4 491.2 L107.6 492.5 L108.8 493.7 L109.3 495.3 L110.2 496.7 L110.9 498.2 L111.8 499.6 L112.1 501.3 L112.8 502.9 L113.3 504.6 L113.1 506.5 L114.0 508.1 L114.2 509.9 L115.2 511.5 L115.9 513.2 L116.3 515.0 L117.5 516.4 L119.1 517.3 L120.7 518.0 L122.3 518.2 L124.0 518.2 L125.6 518.7 L127.3 518.7 L128.9 519.0 L130.5 519.3 L132.1 519.6 L133.7 521.3 L134.9 523.3 L136.3 524.5 L137.8 525.6 L138.7 527.4 L140.4 528.3 L138.7 529.3 L137.3 530.5 L135.8 531.7 L134.8 533.4 L133.4 534.8 L132.1 536.3 L130.4 537.4 L129.6 539.4 L127.7 540.3 L126.5 541.9 L125.7 543.5 L124.7 545.0 L123.8 546.5 L122.9 548.0 L122.6 549.7 L121.9 551.2 L120.9 552.6 L120.0 554.0 L114.5 554.0 L112.8 552.4 L110.8 551.2 L109.1 550.9 L107.6 550.0 L106.1 549.3 L104.3 548.6 L102.4 548.1 L100.6 547.5 L98.7 547.6 L96.9 546.6 L95.0 546.7 L92.1 545.8 L90.7 544.4 L89.9 542.6 L88.2 543.4 L87.2 545.0 L85.6 545.8 L83.7 545.6 L81.7 545.6 L80.0 544.6 L78.0 544.7 L76.4 543.8 L74.7 543.3 L73.3 541.9 L71.5 541.5 L69.8 540.5 L67.8 540.3 L66.0 539.4 L66.9 538.3 L67.9 536.4 L69.3 534.8 L70.2 532.9 L70.0 531.1 L69.9 529.2 L69.1 527.5 L69.9 525.7 L70.0 523.9 L70.2 522.0 L71.3 520.2 L72.5 518.5 L73.4 516.6 L74.3 514.9 L75.2 513.4 L76.5 512.0 L77.3 510.4 L78.3 509.0 L79.6 507.8 L79.9 505.8 L80.8 504.0 L81.8 502.3 L83.4 501.0 L84.8 499.5 L86.1 498.0 L87.0 496.5 L88.2 495.3 L89.1 493.8 L90.4 492.6 L92.1 491.4 L93.4 489.8 L94.8 488.3 L96.7 487.7 L98.3 486.5Z" fill="#ffff00"/><path d="M144.5 450.5 L146.3 449.9 L148.0 449.0 L149.4 448.1 L151.1 448.0 L152.5 447.3 L154.3 446.8 L156.0 446.0 L159.0 445.0 L159.9 446.4 L160.8 447.8 L161.3 449.4 L162.4 450.7 L163.1 452.2 L163.5 453.9 L164.4 455.4 L165.3 456.9 L165.8 458.6 L166.6 460.1 L166.9 462.0 L167.0 463.9 L167.4 465.7 L167.6 467.6 L168.1 469.4 L168.6 471.1 L169.7 472.4 L170.6 473.9 L171.2 475.5 L172.0 477.3 L173.8 478.4 L174.5 480.3 L175.8 481.7 L176.5 483.3 L177.7 484.7 L178.1 486.4 L176.6 487.3 L175.2 488.4 L174.0 489.8 L172.7 491.0 L169.6 491.0 L168.9 492.7 L168.3 494.5 L168.1 496.4 L166.4 495.6 L165.0 494.3 L163.5 493.3 L161.9 493.9 L160.3 494.2 L158.8 494.8 L157.3 495.6 L156.7 497.6 L156.7 499.7 L156.5 501.8 L156.4 503.6 L156.8 505.3 L157.0 507.0 L157.4 508.7 L158.5 510.1 L159.6 511.5 L160.2 513.3 L161.4 514.7 L162.2 516.4 L163.0 518.0 L163.9 519.8 L163.9 521.8 L164.8 523.6 L166.0 526.0 L168.0 526.3 L170.0 526.5 L172.2 526.6 L174.5 526.5 L176.3 525.4 L178.0 524.2 L180.0 523.8 L182.0 523.1 L180.0 523.7 L178.5 525.0 L177.3 526.3 L176.0 527.5 L174.4 528.7 L173.2 530.3 L170.4 531.0 L168.1 531.5 L165.8 531.9 L164.2 531.2 L162.7 530.5 L161.1 530.0 L159.2 529.7 L157.4 530.2 L155.6 530.5 L153.6 530.4 L151.7 531.1 L149.7 530.8 L148.3 529.7 L146.6 529.0 L145.1 528.0 L142.8 528.6 L140.4 528.3 L138.7 527.4 L137.8 525.6 L136.3 524.5 L134.9 523.3 L133.7 521.3 L132.1 519.6 L130.5 519.3 L128.9 519.0 L127.3 518.7 L125.6 518.7 L124.0 518.2 L122.3 518.2 L120.7 518.0 L119.1 517.3 L117.5 516.4 L116.3 515.0 L115.9 513.2 L115.2 511.5 L114.2 509.9 L114.0 508.1 L113.1 506.5 L113.3 504.6 L112.8 502.9 L112.1 501.3 L111.8 499.6 L110.9 498.2 L110.2 496.7 L109.3 495.3 L108.8 493.7 L107.6 492.5 L106.4 491.2 L105.7 489.6 L104.5 488.3 L102.8 487.8 L101.5 486.8 L100.2 485.8 L101.4 484.4 L102.3 482.9 L103.3 481.3 L104.0 479.6 L105.0 478.2 L106.3 477.2 L107.8 476.4 L109.4 475.9 L110.9 475.2 L112.5 474.7 L113.8 473.5 L115.5 473.2 L117.0 472.4 L118.5 471.8 L120.2 471.5 L121.7 471.1 L123.4 470.8 L124.7 469.6 L126.4 469.4 L127.8 468.6 L129.3 467.9 L130.7 467.1 L131.7 465.7 L133.4 465.4 L134.8 464.5 L136.1 463.6 L137.4 462.5 L138.7 461.6 L140.4 461.5 L141.8 460.5 L143.4 460.1 L144.0 458.6 L144.6 457.1 L144.9 455.5 L144.5 453.9 L144.2 452.2Z" fill="#ffff00"/><path d="M140.4 528.3 L142.8 528.6 L145.1 528.0 L146.6 529.0 L148.3 529.7 L149.7 530.8 L151.7 531.1 L153.6 530.4 L155.6 530.5 L157.4 530.2 L159.2 529.7 L161.1 530.0 L162.7 530.5 L164.2 531.2 L165.8 531.9 L168.1 531.5 L170.4 531.0 L173.2 530.3 L173.9 532.5 L173.7 534.7 L174.5 536.9 L174.6 539.3 L175.1 541.1 L175.0 543.1 L175.5 544.9 L175.7 546.6 L176.0 548.2 L176.7 549.7 L176.9 551.4 L177.5 553.3 L178.2 555.1 L178.8 557.0 L179.4 558.8 L180.3 560.6 L180.6 562.5 L182.0 563.5 L182.2 565.5 L183.3 567.2 L183.2 569.3 L184.1 571.1 L183.4 574.2 L182.0 573.3 L180.1 573.5 L178.7 572.6 L177.8 574.2 L176.6 575.6 L175.6 577.1 L175.1 578.9 L174.1 580.4 L173.1 578.9 L172.3 577.4 L172.1 575.6 L171.0 574.2 L169.4 573.9 L167.9 573.0 L166.2 572.8 L164.8 571.9 L162.9 572.3 L161.0 572.4 L159.3 573.6 L157.3 573.5 L155.5 574.2 L154.0 574.8 L152.3 575.1 L150.8 575.9 L149.5 577.0 L147.7 577.0 L146.3 578.0 L144.8 578.6 L143.4 579.6 L141.8 580.2 L140.1 580.4 L138.6 579.4 L137.0 578.4 L135.5 577.3 L134.6 578.9 L133.7 580.5 L132.4 581.9 L132.1 583.9 L131.8 585.8 L130.9 587.6 L130.8 589.6 L129.6 591.2 L127.8 592.0 L127.7 590.3 L126.9 588.8 L126.6 587.1 L125.8 585.6 L125.1 584.1 L124.7 582.4 L123.8 580.9 L123.4 579.2 L122.3 577.7 L121.9 576.0 L122.4 574.3 L122.7 572.5 L122.8 570.7 L123.3 569.1 L123.7 567.5 L123.9 565.9 L123.8 564.2 L123.9 562.5 L123.5 560.9 L123.0 559.3 L122.8 557.7 L121.7 555.6 L120.0 554.0 L120.9 552.6 L121.9 551.2 L122.6 549.7 L122.9 548.0 L123.8 546.5 L124.7 545.0 L125.7 543.5 L126.5 541.9 L127.7 540.3 L129.6 539.4 L130.4 537.4 L132.1 536.3 L133.4 534.8 L134.8 533.4 L135.8 531.7 L137.3 530.5 L138.7 529.3Z" fill="#fda400"/><path d="M173.2 530.3 L174.4 528.7 L176.0 527.5 L177.3 526.3 L178.5 525.0 L180.0 523.7 L182.0 523.1 L182.5 524.8 L183.4 526.4 L183.4 528.2 L185.1 529.3 L187.1 530.0 L188.3 532.0 L189.9 533.8 L190.8 535.6 L191.7 537.5 L192.7 539.3 L193.5 540.9 L194.9 542.2 L195.5 544.0 L196.7 546.0 L198.2 547.7 L200.1 547.9 L201.9 548.6 L203.2 549.8 L203.8 551.4 L204.9 553.2 L205.7 555.1 L205.5 557.0 L206.0 558.8 L205.7 560.7 L205.4 562.3 L205.0 563.9 L205.4 565.5 L205.3 567.1 L205.1 568.7 L205.0 570.3 L203.4 570.7 L201.9 571.1 L200.4 571.9 L198.9 570.5 L197.3 569.2 L195.7 568.0 L194.3 567.1 L193.2 565.9 L192.1 564.7 L191.1 563.4 L189.6 562.7 L188.0 562.5 L186.5 561.8 L184.9 562.5 L183.4 563.4 L182.0 563.5 L180.6 562.5 L180.3 560.6 L179.4 558.8 L178.8 557.0 L178.2 555.1 L177.5 553.3 L176.9 551.4 L176.7 549.7 L176.0 548.2 L175.7 546.6 L175.5 544.9 L175.0 543.1 L175.1 541.1 L174.6 539.3 L174.5 536.9 L173.7 534.7 L173.9 532.5Z" fill="#fda400"/><circle cx="100.4" cy="485.9" r="1.3" fill="#fff"/><ellipse cx="157.3" cy="507.3" rx="1" ry="1.6" fill="#1f1e08" stroke="none"/></g><g class="lbl"><text x="143.4" y="417.6">A</text><text x="126.6" y="453.1">B</text><text x="68.6" y="497.8">C</text><text x="41.5" y="533.8">D</text><text x="98.7" y="524.4">L</text><text x="134.1" y="496.9">I</text><text x="153.2" y="555.2">G</text><text x="189.0" y="555.7">H</text><text x="90.5" y="568.4">M</text><text x="52.6" y="591.1">E</text><text x="108.1" y="590.7">F</text></g>
</svg>
</body></html>
